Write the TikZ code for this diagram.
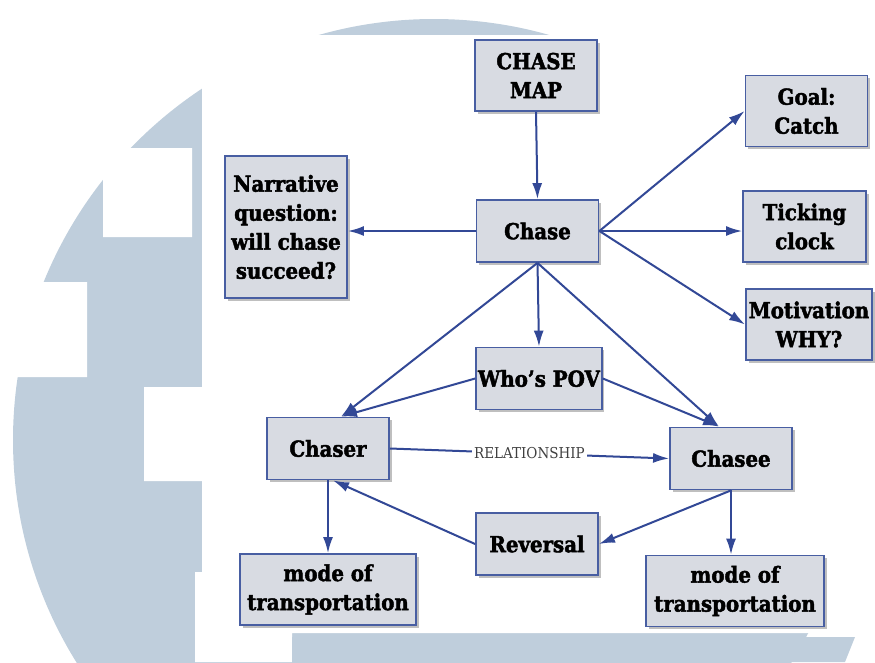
\documentclass[tikz,border=0pt]{standalone}
\usepackage{fontspec}
\setmainfont{DejaVu Serif Condensed}[BoldFeatures={FakeBold=2}]
\usetikzlibrary{arrows.meta,shadows}
\definecolor{bgblue}{RGB}{191,206,220}
\definecolor{boxgray}{RGB}{216,219,226}
\definecolor{boxblue}{RGB}{72,94,162}
\definecolor{arrblue}{RGB}{50,72,150}
\begin{document}
\begin{tikzpicture}[x=1pt,y=-1pt,
box/.style={draw=boxblue,line width=1.8pt,fill=boxgray,align=center,inner sep=2pt,
 minimum width=122pt,minimum height=62pt,font=\fontsize{22}{29}\selectfont\bfseries,
 drop shadow={shadow xshift=2.5pt,shadow yshift=-2.5pt,fill=black!50,opacity=0.5}},
tall/.style={box,minimum height=71pt},
arr/.style={draw=arrblue,line width=2pt,-{Latex[length=16pt,width=10pt]}},
rel/.style={fill=white,text=black!75,inner sep=2pt,font=\fontsize{15}{18}\selectfont}]
\useasboundingbox (0,0) rectangle (875,662);
\clip (0,0) rectangle (875,662);
\fill[bgblue] (434,440) circle (421pt);
\fill[white] (202,35) rectangle (875,633) (195,572) rectangle (292,662)
 (103,148) rectangle (192,237) (0,282) rectangle (87,377) (144,387) rectangle (202,481);
\fill[bgblue] (292,637)--(855,637)--(845,662)--(292,662)--cycle;

\node[tall] (map) at (536,75.5) {CHASE\\MAP};
\node[box] (chase) at (537.5,231) {Chase};
\node[box,minimum height=142pt] (narr) at (286,227) {Narrative\\question:\\will chase\\succeed?};
\node[tall] (goal) at (806.5,111) {Goal:\\Catch};
\node[tall,minimum width=123pt] (tick) at (804.5,226.5) {Ticking\\clock};
\node[tall,minimum width=126pt] (motiv) at (809,324.5) {Motivation\\WHY?};
\node[box] (pov) at (539,378.5) {Who's POV};
\node[box] (chaser) at (328,448.5) {Chaser};
\node[box] (chasee) at (731,458.5) {Chasee};
\node[box] (rev) at (537,544) {Reversal};
\node[tall,minimum width=176pt] (modeL) at (328,589.5) {mode of\\transportation};
\node[tall,minimum width=178pt] (modeR) at (735,591) {mode of\\transportation};

\coordinate (chaserin) at ([xshift=13pt]chaser.north);
\coordinate (chaseein) at ([xshift=-12pt]chasee.north);
\coordinate (revin) at ([xshift=5pt]chaser.south);

\draw[arr] (map.south) -- (chase.north);
\draw[arr] (chase.west) -- (chase.west -| narr.east);
\draw[arr] (chase.east) -- (goal.west);
\draw[arr] (chase.east) -- (chase.east -| tick.west);
\draw[arr] (chase.east) -- (motiv.west);
\draw[arr] (chase.south) -- (chaserin);
\draw[arr] (chase.south) -- (pov.north);
\draw[arr] (chase.south) -- (chaseein);
\draw[arr] (pov.west) -- (chaserin);
\draw[arr] (pov.east) -- (chaseein);
\draw[arr] (chaser.east) -- node[rel] {RELATIONSHIP} (chasee.west);
\draw[arr] (chaser.south) -- (modeL.north);
\draw[arr] (chasee.south) -- (chasee.south |- modeR.north);
\draw[arr] (chasee.south) -- (rev.east);
\draw[arr] (rev.west) -- (revin);
\end{tikzpicture}
\end{document}
